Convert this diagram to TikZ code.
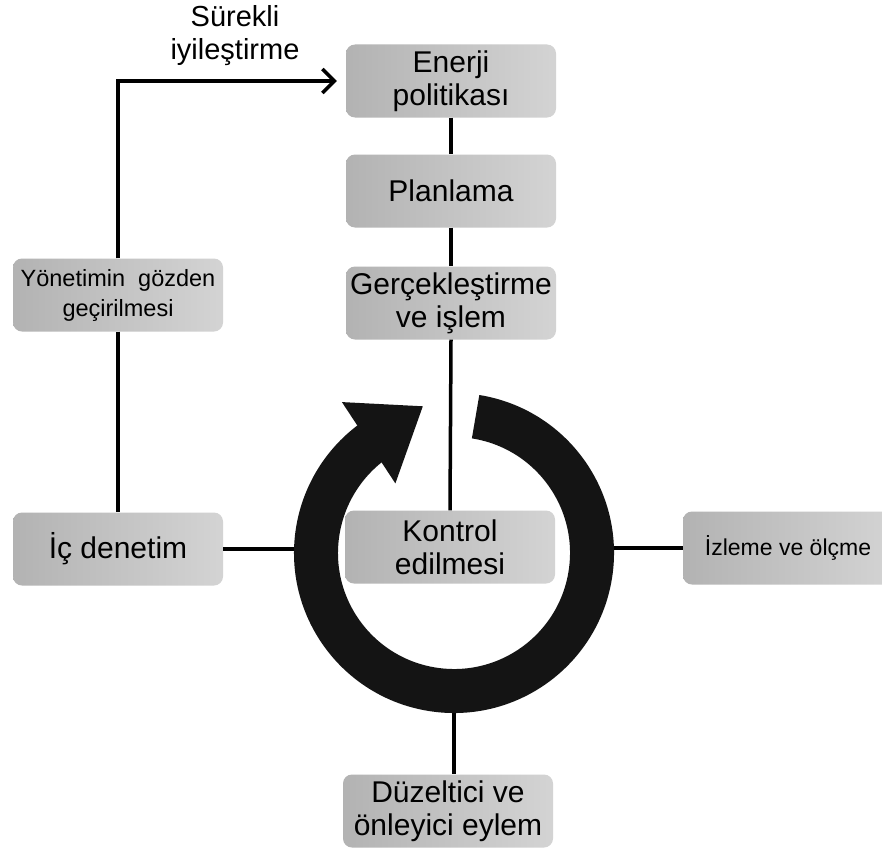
\documentclass[tikz,border=0pt]{standalone}
\usepackage{fontspec}
\setmainfont{Liberation Sans}
\usetikzlibrary{calc,arrows.meta}
\begin{document}
\begin{tikzpicture}[x=1pt,y=-1pt,
  box/.style={draw=none, rounded corners=9pt, left color=black!30, right color=black!17,
    minimum width=210pt, minimum height=73pt, inner sep=0pt, align=center,
    font=\fontsize{30}{33}\selectfont},
  smallbox/.style={box, font=\fontsize{23.5}{30}\selectfont},
  conn/.style={line width=3.5pt, draw=black},
  ringline/.style={line width=44pt, draw=black!92},
]
\clip (0,0) rectangle (882,851);
\fill[white] (0,0) rectangle (882,851);
% boxes
\node[box] (ener) at (451,81) {Enerji\\politikası};
\node[box] (plan) at (451,191) {Planlama};
\node[box] (ger) at (451,303) {Gerçekleştirme\\ve işlem};
\node[smallbox] (yon) at (118,295) {Yönetimin\ \ gözden\\geçirilmesi};
\node[box] (ic) at (118,549) {İç denetim};
\node[box, font=\fontsize{23}{28}\selectfont] (izl) at (788,548) {İzleme ve ölçme};
\node[box] (duz) at (448,811) {Düzeltici ve\\önleyici eylem};
\node[align=center, font=\fontsize{29}{33}\selectfont] (sur) at (235,36) {Sürekli\\iyileştirme};
% ring reference points
\coordinate (ringc) at (454,553);
\coordinate (ringW) at ($(ringc)+(180:150)$);
\coordinate (ringE) at ($(ringc)+(0:150)$);
\coordinate (ringS) at ($(ringc)+(90:150)$);
% connectors
\draw[conn] (ener.south) -- (plan.north);
\draw[conn] (plan.south) -- (ger.north);
\draw[conn] (yon.south) -- (ic.north);
\draw[conn, -{Straight Barb[length=12pt,width=24pt]}, shorten >=9pt] (yon.north) |- (ener.west);
\draw[conn] (ic.east) -- (ic.east -| ringW);
\draw[conn] (izl.west) -- (izl.west -| ringE);
\draw[conn] (ringS) -- (ringS |- duz.north);
% ring with arrowhead
\draw[ringline] ($(ringc)+(-81:138)$) arc[start angle=-81, end angle=233, radius=138];
\fill[black!92] ($(ringc)+(233.4:188)$) -- ($(ringc)+(258:150)$) -- ($(ringc)+(229.9:91)$) -- cycle;
% centre box
\node[box] (kon) at (450,547) {Kontrol\\edilmesi};
\draw[conn] (ger.south) -- (kon.north);
\end{tikzpicture}
\end{document}
